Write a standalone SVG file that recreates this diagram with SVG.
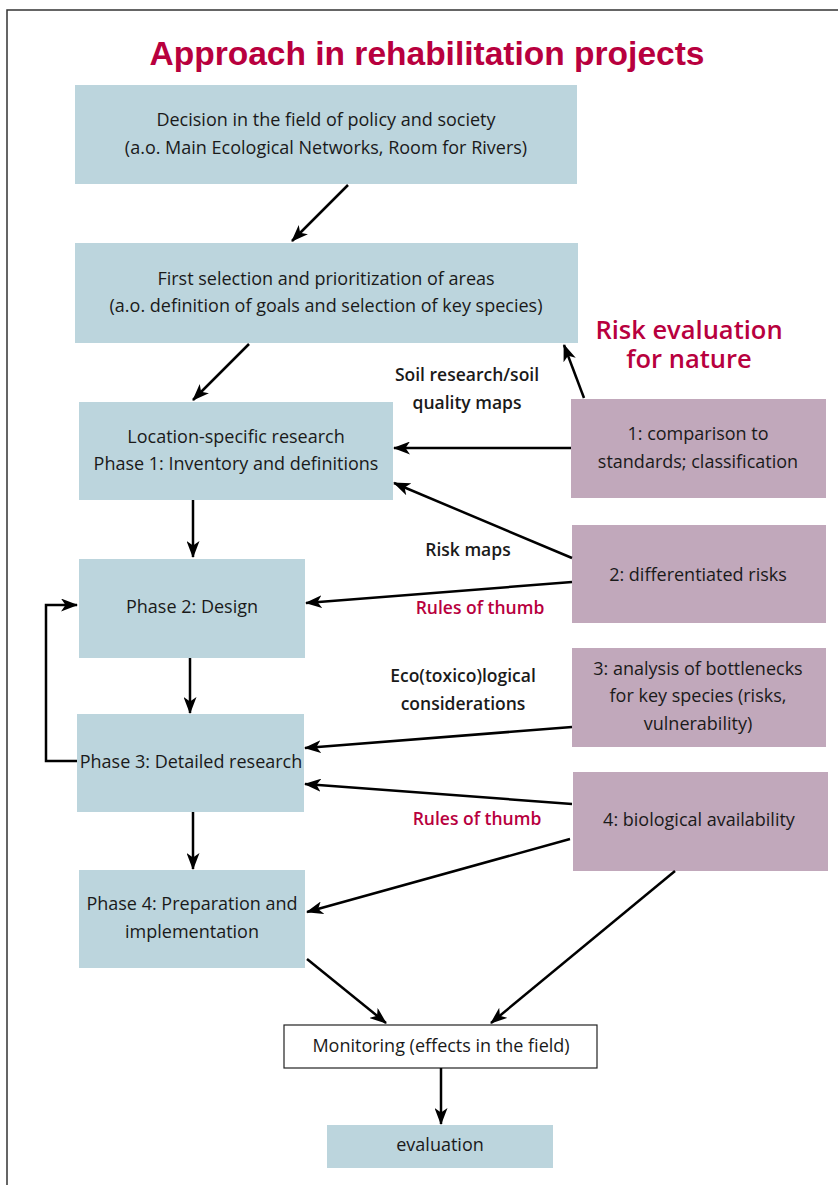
<svg xmlns="http://www.w3.org/2000/svg" width="838" height="1185" viewBox="0 0 838 1185">
<style>
.b{fill:#bcd5dd}
.p{fill:#c1a8bb}
.t{font-family:"Open Sans","Liberation Sans",Arial,sans-serif;font-size:18px;fill:#1a1a1a;text-anchor:middle}
.l{font-family:"Open Sans","Liberation Sans",Arial,sans-serif;font-size:17.5px;font-weight:600;fill:#1a1a1a;text-anchor:middle}
.r{fill:#b8003e}
.c line,.c path{stroke:#000;stroke-width:2.5;fill:none;marker-end:url(#ah)}
</style>
<defs>
<marker id="ah" viewBox="0 0 17 13" refX="16" refY="6.5" markerWidth="17" markerHeight="13" markerUnits="userSpaceOnUse" orient="auto">
<path d="M0,0 L17,6.5 L0,13 L4.5,6.5 z" fill="#000"/>
</marker>
</defs>
<rect width="838" height="1185" fill="#fff"/>
<path d="M7,1185 V10 H838" stroke="#333" stroke-width="1.5" fill="none"/>
<text x="427" y="65" font-family="Liberation Sans,Arial,sans-serif" font-size="34" font-weight="bold" fill="#b8003e" text-anchor="middle" textLength="555" lengthAdjust="spacingAndGlyphs">Approach in rehabilitation projects</text>
<g id="risk-title" font-family="Open Sans,Liberation Sans,Arial,sans-serif" font-size="25.5" font-weight="600" fill="#b8003e" text-anchor="middle">
<text x="689" y="339">Risk evaluation</text>
<text x="689" y="368">for nature</text>
</g>
<g id="n-decision"><rect class="b" x="75" y="85" width="502" height="99"/>
<text class="t" x="326" y="126">Decision in the field of policy and society</text>
<text class="t" x="326" y="154">(a.o. Main Ecological Networks, Room for Rivers)</text></g>
<g id="n-selection"><rect class="b" x="75" y="243" width="503" height="100"/>
<text class="t" x="326" y="285">First selection and prioritization of areas</text>
<text class="t" x="326" y="312">(a.o. definition of goals and selection of key species)</text></g>
<g id="n-phase1"><rect class="b" x="79" y="402" width="314" height="98"/>
<text class="t" x="236" y="443">Location-specific research</text>
<text class="t" x="236" y="470">Phase 1: Inventory and definitions</text></g>
<g id="n-phase2"><rect class="b" x="79" y="559" width="226" height="99"/>
<text class="t" x="192" y="613">Phase 2: Design</text></g>
<g id="n-phase3"><rect class="b" x="77" y="714" width="227" height="98"/>
<text class="t" x="191" y="768">Phase 3: Detailed research</text></g>
<g id="n-phase4"><rect class="b" x="79" y="870" width="226" height="98"/>
<text class="t" x="192" y="910">Phase 4: Preparation and</text>
<text class="t" x="192" y="938">implementation</text></g>
<g id="n-monitoring"><rect x="284" y="1025" width="313" height="43" fill="#fff" stroke="#222" stroke-width="1.2"/>
<text class="t" x="441" y="1052">Monitoring (effects in the field)</text></g>
<g id="n-evaluation"><rect class="b" x="327" y="1125" width="226" height="43"/>
<text class="t" x="440" y="1151">evaluation</text></g>
<g id="n-r1"><rect class="p" x="571" y="399" width="255" height="99"/>
<text class="t" x="698" y="440">1: comparison to</text>
<text class="t" x="698" y="468">standards; classification</text></g>
<g id="n-r2"><rect class="p" x="572" y="525" width="254" height="98"/>
<text class="t" x="698" y="581">2: differentiated risks</text></g>
<g id="n-r3"><rect class="p" x="572" y="648" width="254" height="99"/>
<text class="t" x="698" y="675">3: analysis of bottlenecks</text>
<text class="t" x="698" y="702">for key species (risks,</text>
<text class="t" x="698" y="730">vulnerability)</text></g>
<g id="n-r4"><rect class="p" x="573" y="772" width="255" height="99"/>
<text class="t" x="699" y="826">4: biological availability</text></g>
<g id="labels">
<text class="l" x="467" y="381">Soil research/soil</text>
<text class="l" x="467" y="409">quality maps</text>
<text class="l" x="468" y="556">Risk maps</text>
<text class="l r" x="480" y="614">Rules of thumb</text>
<text class="l" x="463" y="682">Eco(toxico)logical</text>
<text class="l" x="463" y="710">considerations</text>
<text class="l r" x="477" y="825">Rules of thumb</text>
</g>
<g id="connectors" class="c">
<line x1="348" y1="185" x2="292" y2="241"/>
<line x1="249" y1="344" x2="193" y2="400"/>
<line x1="584" y1="398" x2="564" y2="345"/>
<line x1="571" y1="448" x2="394" y2="448"/>
<line x1="572" y1="558" x2="394" y2="483"/>
<line x1="572" y1="582" x2="306" y2="603"/>
<line x1="193" y1="500" x2="193" y2="557"/>
<path d="M77,761 H46 V605 H77"/>
<line x1="190" y1="658" x2="190" y2="713"/>
<line x1="572" y1="727" x2="305" y2="748"/>
<line x1="572" y1="804" x2="305" y2="784"/>
<line x1="193" y1="812" x2="193" y2="869"/>
<line x1="570" y1="839" x2="307" y2="912"/>
<line x1="307" y1="959" x2="386" y2="1023"/>
<line x1="675" y1="871" x2="491" y2="1023"/>
<line x1="441" y1="1068" x2="441" y2="1124"/>
</g>
</svg>
